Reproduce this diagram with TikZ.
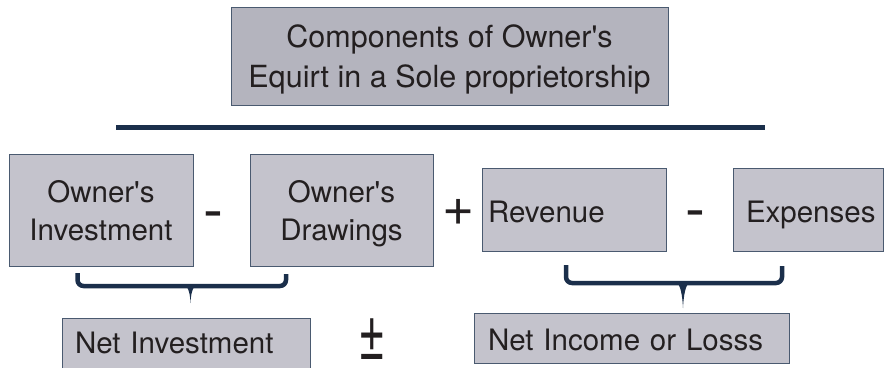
\documentclass[tikz,border=0pt]{standalone}
\usepackage{fontspec}
\setmainfont{TeX Gyre Heros}

\definecolor{boxfill}{HTML}{C4C3CC}
\definecolor{titlefill}{HTML}{B4B4BE}
\definecolor{boxedge}{HTML}{4A5A70}
\definecolor{navy}{HTML}{1B2F4B}
\definecolor{ink}{HTML}{231F20}

\newcommand\termfont{\fontsize{29.5}{38}\selectfont}

\tikzset{
  termbox/.style={draw=boxedge, line width=1, fill=boxfill, inner sep=0pt,
                  text=ink, font=\termfont},
  opsign/.style={text=ink, inner sep=0pt},
  rulebar/.style={draw=navy, line width=5},
  bracestroke/.style={draw=navy, line width=4.5, rounded corners=6},
  bracetip/.style={fill=navy},
}

\begin{document}
\begin{tikzpicture}[x=1pt, y=-1pt]
  \useasboundingbox (0,0) rectangle (884,367);
  \clip (0,0) rectangle (884,367);

  % title and the rule under it
  \node[termbox, fill=titlefill, minimum width=437, minimum height=98, align=center,
        text depth=-2pt, font=\fontsize{30.5}{40}\selectfont] (title) at (449.5,56)
        {Components of Owner\textquotesingle s\\Equirt in a Sole proprietorship};
  \coordinate (ruleL) at (116,127.5);
  \coordinate (ruleR) at (765,127.5);
  \draw[rulebar] (ruleL) -- (ruleR);

  % the four components
  \node[termbox, minimum width=184, minimum height=112, align=center,
        text depth=-7pt] (inv) at (101,210)
        {Owner\textquotesingle s\\Investment};
  \node[termbox, minimum width=183, minimum height=112, align=center,
        text depth=0pt] (draw) at (341.5,210)
        {Owner\textquotesingle s\\Drawings};
  \node[termbox, minimum width=184, minimum height=83, text width=172, align=left,
        text height=26.5, text depth=0] (rev) at (574,209.5) {Revenue};
  \node[termbox, minimum width=150, minimum height=83, text width=124, align=left,
        text height=26.5, text depth=0] (exp) at (808,209.5) {Expenses};

  % operators between the components
  \node[opsign, font=\fontsize{60}{60}\selectfont, anchor=base] (minusA) at (213.5,230) {-};
  \node[opsign, font=\fontsize{55}{55}\selectfont] (plusA) at (459,212) {+};
  \node[opsign, font=\fontsize{60}{60}\selectfont, anchor=base] (minusB) at (695.5,229) {-};

  % braces grouping the components
  \coordinate (b1l) at (77.5,273);
  \coordinate (b1r) at (286,274);
  \coordinate (b1t) at (190.5,303);
  \draw[bracestroke] (b1l) -- (77.5,286) -- (286,286) -- (b1r);
  \fill[bracetip] (181,284) .. controls (187,284) and (190,290) .. (b1t)
                  .. controls (191,290) and (194,284) .. (200,284) -- cycle;

  \coordinate (b2l) at (566,265);
  \coordinate (b2r) at (782,266);
  \coordinate (b2t) at (683,308);
  \draw[bracestroke] (b2l) -- (566,283) -- (782,283) -- (b2r);
  \fill[bracetip] (673,281) .. controls (679,281) and (682,289) .. (b2t)
                  .. controls (684,289) and (687,281) .. (693,281) -- cycle;

  % net results
  \node[termbox, minimum width=248, minimum height=67, text width=222, align=left,
        text height=21, text depth=18] (netinv) at (186,351.5) {Net Investment};
  \node[opsign, font=\fontsize{47}{47}\selectfont] (pm) at (372,339.5)
        {\scalebox{1}[1.6]{±}};
  \node[termbox, minimum width=315, minimum height=50, text width=287, align=left,
        text height=24, text depth=0] (netinc) at (631.5,338) {Net Income or Losss};
\end{tikzpicture}
\end{document}
